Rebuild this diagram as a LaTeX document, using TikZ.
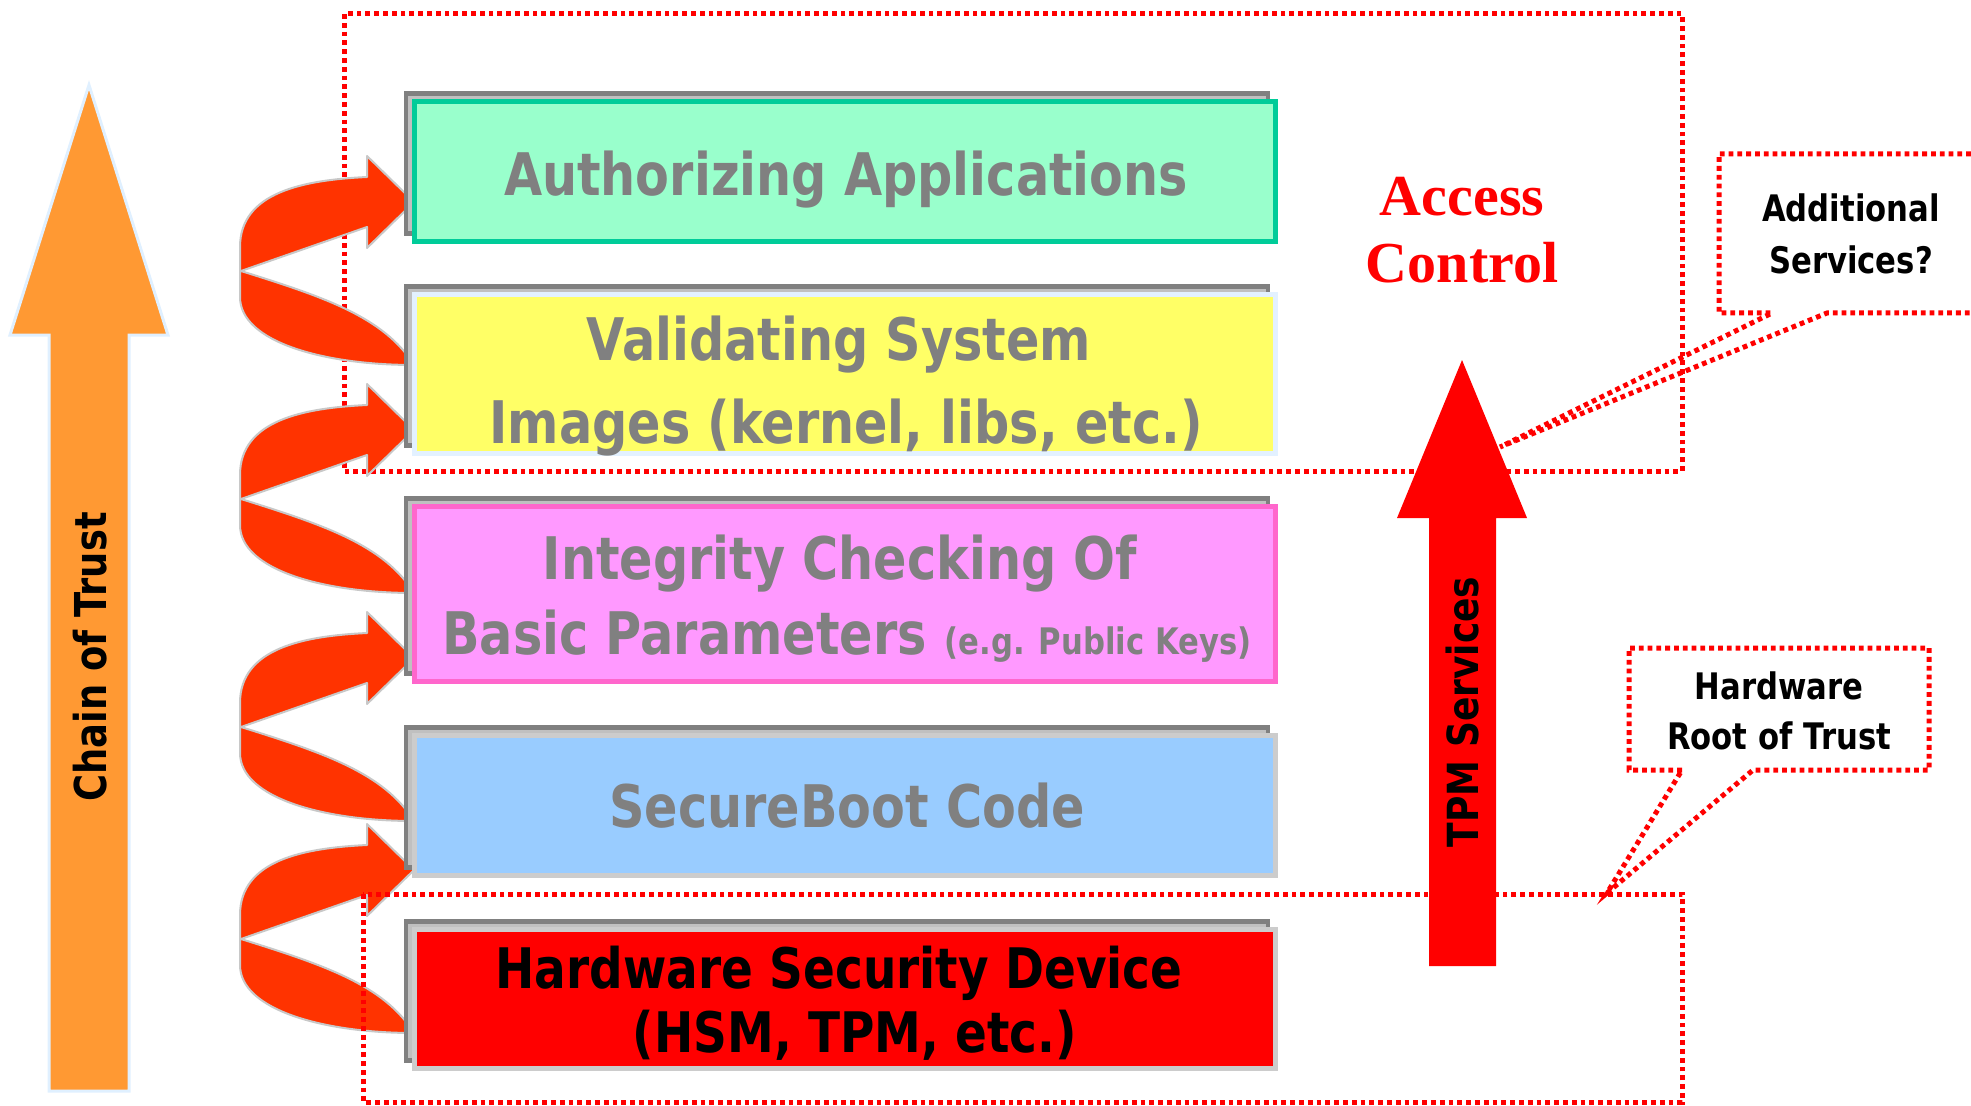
\documentclass[tikz,border=0pt]{standalone}
\usepackage{fontspec}
\newfontfamily\tb[FakeStretch=0.84]{DejaVu Sans}
\newfontfamily\tnr{Liberation Serif}
\definecolor{gtxt}{HTML}{808080}
\definecolor{bAfill}{HTML}{99FFCC}\definecolor{bAdraw}{HTML}{00CC99}
\definecolor{bBfill}{HTML}{FFFF66}\definecolor{bBdraw}{HTML}{E3F1FF}
\definecolor{bCfill}{HTML}{FF99FF}\definecolor{bCdraw}{HTML}{FF66CC}
\definecolor{bDfill}{HTML}{99CCFF}\definecolor{bDdraw}{HTML}{CCCCCC}
\definecolor{bEfill}{HTML}{FF0000}\definecolor{bEdraw}{HTML}{CCCCCC}
\definecolor{backfill}{HTML}{C0C0C0}\definecolor{backdraw}{HTML}{808080}
\definecolor{orangearr}{HTML}{FF9933}\definecolor{orangeedge}{HTML}{E0F0FF}
\definecolor{curvefill}{HTML}{FF3300}\definecolor{curveedge}{HTML}{C8C8C8}
\definecolor{dotred}{HTML}{FF0000}
\tikzset{
  dotframe/.style={draw=dotred, line width=0.5mm, dash pattern=on 0.48mm off 0.4mm},
  frontbox/.style={rectangle, line width=0.5mm, minimum width=86.1mm, inner sep=0pt},
  backbox/.style={rectangle, draw=backdraw, fill=backfill, line width=0.45mm, minimum width=86.2mm, inner sep=0pt},
  boxtext/.style={anchor=base, inner sep=0pt, text=gtxt, font=\tb\bfseries\fontsize{16.7pt}{20pt}\selectfont},
  calltext/.style={anchor=base, inner sep=0pt, font=\tb\bfseries\fontsize{10.4pt}{12pt}\selectfont},
  curvarr/.pic={
    \filldraw[fill=curvefill, draw=curveedge, line width=0.2mm, line join=round]
      (0,0) -- (-47,-46) -- (-47,-25)
      .. controls (-110,-22) and (-174,-10) .. (-174,45)
      -- (-174,95)
      .. controls (-174,140) and (-90,163) .. (0,163)
      .. controls (-30,115) and (-90,95) .. (-173,69)
      -- (-47,25) -- (-47,46) -- cycle;
  }
}
\begin{document}
\begin{tikzpicture}[x=0.1mm, y=-0.1mm]
\useasboundingbox (0,0) rectangle (1971,1105);
% access control region
\draw[dotframe] (344,14) rectangle (1682,471);
% chain of trust arrow
\filldraw[fill=orangearr, draw=orangeedge, line width=0.3mm]
  (89,85) -- (168,335) -- (129,335) -- (129,1091) -- (49,1091) -- (49,335) -- (10,335) -- cycle;
\node[rotate=90, inner sep=0pt, font=\tb\bfseries\fontsize{12.5pt}{14pt}\selectfont] (cot) at (90,657) {Chain of Trust};
% curved arrows
\pic at (414,202) {curvarr};
\pic at (414,430) {curvarr};
\pic at (414,658) {curvarr};
\pic at (414,870) {curvarr};
% layer boxes
\node[backbox, minimum height=14.0mm] (bkA) at (837,163.5) {};
\node[frontbox, draw=bAdraw, fill=bAfill, minimum height=14.0mm] (bA) at (845,171.5) {};
\node[backbox, minimum height=15.9mm] (bkB) at (837,366) {};
\node[frontbox, draw=bBdraw, fill=bBfill, minimum height=15.9mm] (bB) at (845,374) {};
\node[backbox, minimum height=17.5mm] (bkC) at (837,586) {};
\node[frontbox, draw=bCdraw, fill=bCfill, minimum height=17.5mm] (bC) at (845,594) {};
\node[backbox, minimum height=14.0mm] (bkD) at (837,797.5) {};
\node[frontbox, draw=bDdraw, fill=bDfill, minimum height=14.0mm] (bD) at (845,805.5) {};
\node[backbox, minimum height=13.9mm] (bkE) at (837,991) {};
\node[frontbox, draw=bEdraw, fill=bEfill, minimum height=13.9mm] (bE) at (845,999) {};
% box texts
\node[boxtext] (tA) at (846,196) {Authorizing Applications};
\node[boxtext] (tBa) at (839,360) {Validating System};
\node[boxtext] (tBb) at (846,443) {Images (kernel, libs, etc.)};
\node[boxtext] (tCa) at (840,579) {Integrity Checking Of};
\node[boxtext] (tCb) at (847,654) {Basic Parameters\hspace{0.3em}{\fontsize{10.4pt}{12pt}\selectfont(e.g. Public Keys)}};
\node[boxtext] (tD) at (847,827) {SecureBoot Code};
\node[boxtext, text=black, font=\tb\bfseries\fontsize{15.9pt}{19pt}\selectfont] (tEa) at (839,988) {Hardware Security Device};
\node[boxtext, text=black, font=\tb\bfseries\fontsize{15.9pt}{19pt}\selectfont] (tEb) at (855,1052) {(HSM, TPM, etc.)};
% hardware root region
\draw[dotframe] (363,894) rectangle (1682,1102);
% TPM services arrow
\fill[dotred] (1462,360) -- (1527,518) -- (1496,518) -- (1496,966) -- (1429,966) -- (1429,518) -- (1397,518) -- cycle;
\node[rotate=90, inner sep=0pt, font=\tb\bfseries\fontsize{12.2pt}{14pt}\selectfont] (tpm) at (1462,712) {TPM Services};
% access control label
\node[anchor=base, inner sep=0pt, text=dotred, font=\tnr\bfseries\fontsize{16.5pt}{19pt}\selectfont] (acA) at (1462,216) {Access};
\node[anchor=base, inner sep=0pt, text=dotred, font=\tnr\bfseries\fontsize{16.5pt}{19pt}\selectfont] (acB) at (1462,283) {Control};
% callout: additional services
\draw[dotframe] (1971,154) -- (1719,154) -- (1719,313) -- (1772,313) -- (1500,447) -- (1827,313) -- (1971,313);
\node[calltext] (asA) at (1851,222) {Additional};
\node[calltext] (asB) at (1851,274) {Services?};
% callout: hardware root of trust
\draw[dotframe] (1682,770) -- (1629,770) -- (1629,648) -- (1929,648) -- (1929,770) -- (1753,770) -- (1607,893) -- cycle;
\node[calltext] (hrA) at (1779,699) {Hardware};
\node[calltext] (hrB) at (1779,749) {Root of Trust};
\end{tikzpicture}
\end{document}
